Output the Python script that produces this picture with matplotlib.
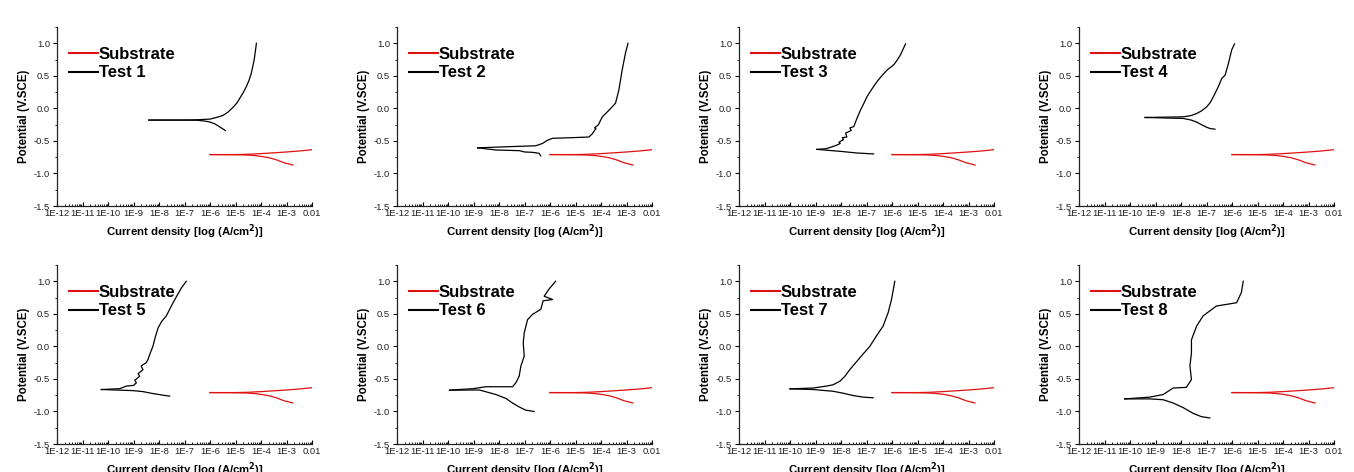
import matplotlib
matplotlib.use("Agg")
import matplotlib.pyplot as plt
import numpy as np
from matplotlib.ticker import FixedLocator, NullFormatter, LogLocator

plt.rcParams['font.family'] = ['Liberation Sans', 'DejaVu Sans']

# ---- data: log10(current density) and potential (V vs SCE) ----
sub_anodic_logi = [-6.0, -5.0, -4.5, -4.0, -3.5, -3.0, -2.5, -2.0]
sub_anodic_E = [-0.71, -0.71, -0.705, -0.695, -0.683, -0.67, -0.655, -0.635]
sub_cath_logi = [-6.0, -5.0, -4.5, -4.2, -4.0, -3.7, -3.4, -3.1, -2.75]
sub_cath_E = [-0.71, -0.712, -0.718, -0.727, -0.737, -0.757, -0.79, -0.835, -0.87]

test_labels = ["Test 1", "Test 2", "Test 3", "Test 4", "Test 5", "Test 6", "Test 7", "Test 8"]

t1_an_logi = [-8.4, -7.0, -6.5, -6.0, -5.75, -5.5, -5.3, -5.1, -4.95, -4.84, -4.7, -4.58, -4.47, -4.38, -4.27, -4.22, -4.18]
t1_an_E = [-0.18, -0.18, -0.175, -0.165, -0.14, -0.11, -0.06, 0.015, 0.08, 0.15, 0.24, 0.33, 0.43, 0.54, 0.74, 0.88, 1.0]
t1_ca_logi = [-8.4, -7.0, -6.5, -6.2, -6.0, -5.8, -5.6, -5.4]
t1_ca_E = [-0.18, -0.18, -0.183, -0.195, -0.21, -0.24, -0.29, -0.34]

t2_an_logi = [-8.84, -7.73, -6.56, -6.3, -6.1, -5.9, -5.12, -4.47, -4.34, -4.2, -4.25, -4.1, -3.95, -3.69, -3.5, -3.43, -3.3, -3.17, -3.04, -2.94]
t2_an_E = [-0.607, -0.59, -0.575, -0.54, -0.49, -0.46, -0.45, -0.44, -0.39, -0.31, -0.3, -0.25, -0.13, -0.03, 0.05, 0.08, 0.28, 0.59, 0.85, 1.0]
t2_ca_logi = [-8.84, -8.1, -7.2, -7.0, -6.7, -6.43, -6.36]
t2_ca_E = [-0.607, -0.64, -0.65, -0.67, -0.675, -0.69, -0.73]

t3_an_logi = [-8.95, -8.6, -8.42, -8.2, -8.03, -8.08, -7.9, -7.95, -7.77, -7.82, -7.6, -7.65, -7.5, -7.37, -7.24, -7.1, -6.98, -6.8, -6.59, -6.4, -6.19, -5.93, -5.8, -5.67, -5.47]
t3_an_E = [-0.63, -0.62, -0.60, -0.57, -0.54, -0.52, -0.48, -0.45, -0.44, -0.38, -0.34, -0.30, -0.28, -0.15, -0.03, 0.08, 0.18, 0.29, 0.41, 0.5, 0.59, 0.67, 0.74, 0.82, 0.99]
t3_ca_logi = [-8.95, -8.5, -8.03, -7.4, -6.72]
t3_ca_E = [-0.63, -0.645, -0.66, -0.685, -0.70]

t4_an_logi = [-9.41, -7.91, -7.6, -7.39, -7.2, -7.0, -6.85, -6.73, -6.54, -6.4, -6.27, -6.14, -6.01, -5.9]
t4_an_E = [-0.14, -0.13, -0.11, -0.08, -0.04, 0.02, 0.09, 0.18, 0.33, 0.46, 0.51, 0.69, 0.9, 0.99]
t4_ca_logi = [-9.41, -7.91, -7.6, -7.39, -7.2, -7.0, -6.85, -6.67]
t4_ca_E = [-0.14, -0.155, -0.18, -0.21, -0.25, -0.29, -0.31, -0.32]

t5_an_logi = [-10.26, -9.54, -9.28, -9.0, -8.89, -8.95, -8.76, -8.82, -8.63, -8.7, -8.5, -8.43, -8.34, -8.24, -8.14, -8.04, -7.9, -7.71, -7.45, -7.12, -6.93]
t5_an_E = [-0.663, -0.65, -0.61, -0.6, -0.56, -0.52, -0.46, -0.42, -0.36, -0.3, -0.25, -0.2, -0.1, 0.0, 0.15, 0.28, 0.38, 0.47, 0.67, 0.9, 1.0]
t5_ca_logi = [-10.26, -9.02, -8.63, -8.24, -7.84, -7.58]
t5_ca_E = [-0.663, -0.68, -0.695, -0.725, -0.75, -0.765]

t6_an_logi = [-9.94, -9.03, -8.51, -7.47, -7.34, -7.21, -7.14, -7.01, -7.05, -7.01, -6.88, -6.69, -6.36, -6.27, -5.9, -6.23, -6.04, -5.78]
t6_an_E = [-0.673, -0.65, -0.62, -0.62, -0.56, -0.46, -0.30, -0.15, 0.05, 0.21, 0.41, 0.49, 0.57, 0.70, 0.72, 0.77, 0.88, 1.0]
t6_ca_logi = [-9.94, -8.77, -8.12, -7.73, -7.47, -7.21, -6.95, -6.62]
t6_ca_E = [-0.673, -0.67, -0.74, -0.80, -0.87, -0.93, -0.98, -1.0]

t7_an_logi = [-10.0, -9.09, -8.57, -8.31, -8.04, -7.85, -7.65, -7.26, -6.87, -6.61, -6.35, -6.15, -6.02, -5.89]
t7_an_E = [-0.653, -0.64, -0.61, -0.59, -0.535, -0.46, -0.355, -0.175, 0.0, 0.16, 0.31, 0.52, 0.72, 1.0]
t7_ca_logi = [-10.0, -9.09, -8.31, -7.91, -7.52, -7.13, -6.74]
t7_ca_E = [-0.653, -0.663, -0.69, -0.72, -0.756, -0.78, -0.79]

t8_an_logi = [-10.21, -9.23, -8.70, -8.31, -7.79, -7.59, -7.65, -7.59, -7.59, -7.39, -7.13, -6.61, -5.82, -5.63, -5.56]
t8_an_E = [-0.807, -0.78, -0.74, -0.64, -0.63, -0.51, -0.30, -0.1, 0.1, 0.31, 0.47, 0.62, 0.67, 0.83, 1.0]
t8_ca_logi = [-10.21, -9.23, -8.70, -8.31, -7.92, -7.52, -7.2, -6.87]
t8_ca_E = [-0.807, -0.807, -0.82, -0.87, -0.94, -1.03, -1.08, -1.1]

tests = [
    (t1_an_logi, t1_an_E, t1_ca_logi, t1_ca_E),
    (t2_an_logi, t2_an_E, t2_ca_logi, t2_ca_E),
    (t3_an_logi, t3_an_E, t3_ca_logi, t3_ca_E),
    (t4_an_logi, t4_an_E, t4_ca_logi, t4_ca_E),
    (t5_an_logi, t5_an_E, t5_ca_logi, t5_ca_E),
    (t6_an_logi, t6_an_E, t6_ca_logi, t6_ca_E),
    (t7_an_logi, t7_an_E, t7_ca_logi, t7_ca_E),
    (t8_an_logi, t8_an_E, t8_ca_logi, t8_ca_E),
]

x_ticks = [1e-12, 1e-11, 1e-10, 1e-9, 1e-8, 1e-7, 1e-6, 1e-5, 1e-4, 1e-3, 1e-2]
x_tick_labels = ["1E-12", "1E-11", "1E-10", "1E-9", "1E-8", "1E-7", "1E-6", "1E-5", "1E-4", "1E-3", "0.01"]
y_ticks = [-1.5, -1.0, -0.5, 0.0, 0.5, 1.0]
y_tick_labels = ["-1.5", "-1.0", "-0.5", "0.0", "0.5", "1.0"]

W, H = 1354, 472
fig = plt.figure(figsize=(W / 100, H / 100), dpi=100)

lefts = [57, 397, 739, 1079]
tops = [27, 265]
aw, ah = 255, 179

red = '#e01010'
for i, (al, ae, cl, ce) in enumerate(tests):
    r, c = divmod(i, 4)
    ax = fig.add_axes([lefts[c] / W, (H - tops[r] - ah) / H, aw / W, ah / H])
    ax.plot(10 ** np.array(sub_anodic_logi), sub_anodic_E, color=red, lw=0.9, label="Substrate")
    ax.plot(10 ** np.array(sub_cath_logi), sub_cath_E, color=red, lw=0.9)
    ax.plot(10 ** np.array(al), ae, color='black', lw=0.9, label=test_labels[i])
    ax.plot(10 ** np.array(cl), ce, color='black', lw=0.9)
    ax.set_xscale('log')
    ax.set_xlim(1e-12, 1e-2)
    ax.set_ylim(-1.5, 1.25)
    ax.set_xticks(x_ticks)
    ax.set_xticklabels(x_tick_labels, fontsize=6.8, color='#222222')
    ax.xaxis.set_minor_locator(LogLocator(base=10, subs=np.arange(2, 10), numticks=100))
    ax.xaxis.set_minor_formatter(NullFormatter())
    ax.set_yticks(y_ticks)
    ax.set_yticklabels(y_tick_labels, fontsize=6.8, color='#222222')
    ax.yaxis.set_minor_locator(FixedLocator([-1.25, -0.75, -0.25, 0.25, 0.75, 1.25]))
    ax.tick_params(axis='x', which='major', direction='in', length=3, width=0.8, pad=2.5)
    ax.tick_params(axis='x', which='minor', direction='in', length=1.5, width=0.6)
    ax.tick_params(axis='y', which='major', direction='out', length=3, width=0.8, pad=2)
    ax.tick_params(axis='y', which='minor', direction='out', length=1.5, width=0.6)
    for s in ['top', 'right']:
        ax.spines[s].set_visible(False)
    for s in ['left', 'bottom']:
        ax.spines[s].set_linewidth(0.9)
        ax.spines[s].set_color('#222222')
    ax.set_xlabel(r'Current density [log (A/cm$^\mathbf{2}$)]', fontsize=8.2, fontweight='bold', labelpad=3)
    ax.set_ylabel('Potential (V.SCE)', fontsize=8.3, fontweight='bold', labelpad=3)
    leg = ax.legend(loc='upper left', bbox_to_anchor=(0.02, 0.925), frameon=False,
                    prop={'weight': 'bold', 'size': 12}, handlelength=1.75,
                    handletextpad=0.05, labelspacing=0.2, borderaxespad=0.0)
    for line in leg.get_lines():
        line.set_linewidth(1.5)

fig.savefig('out.png', dpi=100, facecolor='white')
